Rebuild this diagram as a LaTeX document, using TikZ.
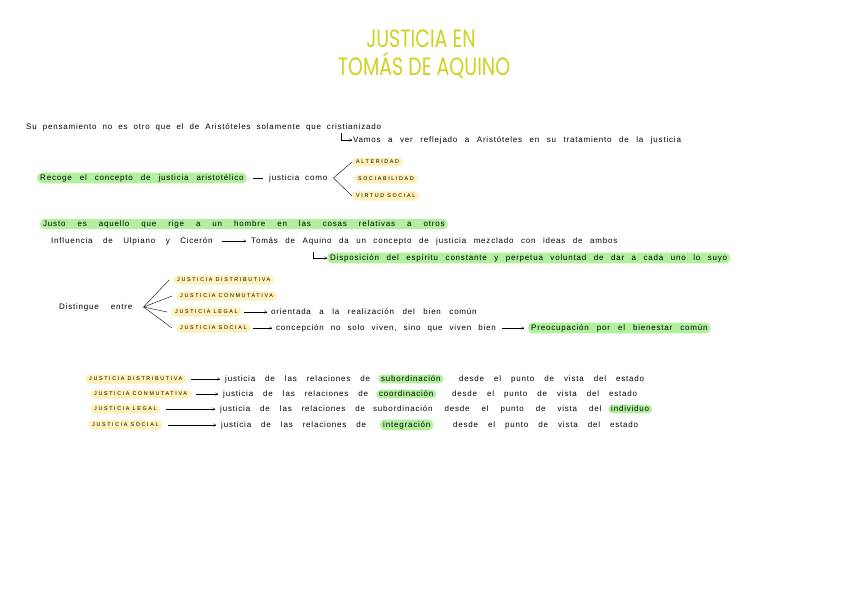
\documentclass[tikz,border=0pt]{standalone}
\usepackage{fontspec}
\setmainfont{Liberation Sans}
\newfontfamily\handfont[LetterSpace=10]{Liberation Sans}
\newfontfamily\capsfont[LetterSpace=30]{Liberation Sans}
\newfontfamily\titlefont{Poppins}
\usetikzlibrary{arrows.meta}
\definecolor{titulo}{RGB}{205,210,30}
\definecolor{verde}{RGB}{178,240,160}
\definecolor{amarillo}{RGB}{255,239,184}
\tikzset{
  esp/.style={execute at begin node={\spaceskip=#1 plus 1pt\relax}},
  txt/.style={anchor=west, inner sep=1pt, font=\handfont\fontsize{8}{9}\selectfont, esp=6pt},
  hl/.style={txt, fill=verde, rounded corners=4.5pt, inner xsep=3pt, inner ysep=1.5pt},
  tag/.style={anchor=west, fill=amarillo, rounded corners=5pt, inner xsep=4pt, inner ysep=2.6pt, font=\capsfont\fontsize{5.4}{6}\selectfont},
  titulo/.style={font=\titlefont\fontsize{25}{27}\selectfont, text=titulo, xscale=0.76},
  flecha/.style={-{To[length=3pt,width=3pt]}, thin},
  rama/.style={thin},
}
\begin{document}
\begin{tikzpicture}[x=1pt, y=-1pt]
\useasboundingbox (0,0) rectangle (848,599);
% titulo
\node[titulo] (t1) at (421,39) {JUSTICIA EN};
\node[titulo] (t2) at (424,66) {TOMÁS DE AQUINO};
% pensamiento
\node[txt] (pens) at (25,127) {Su pensamiento no es otro que el de Aristóteles solamente que cristianizado};
\node[txt, esp=7.5pt] (vamos) at (352,140) {Vamos a ver reflejado a Aristóteles en su tratamiento de la justicia};
\coordinate (v0) at (341,133);
\draw[flecha] (v0) |- (vamos.west);
% justicia como
\node[hl, esp=8pt] (recoge) at (37,178) {Recoge el concepto de justicia aristotélico};
\node[txt] (como) at (268,178) {justicia como};
\draw[rama] ([xshift=6pt]recoge.east) -- ([xshift=-5pt]como.west);
\node[tag] (alt) at (352,162) {ALTERIDAD};
\node[tag] (soc) at (354,179) {SOCIABILIDAD};
\node[tag] (vir) at (352,196) {VIRTUD SOCIAL};
\draw[rama] (alt.west) -- ([xshift=5pt]como.east) -- (vir.west);
% justo
\node[hl, esp=12pt] (justo) at (40,224) {Justo es aquello que rige a un hombre en las cosas relativas a otros};
\node[txt, esp=10.5pt] (infl) at (50,241) {Influencia de Ulpiano y Cicerón};
\node[txt, esp=7.5pt] (tomas) at (250,241) {Tomás de Aquino da un concepto de justicia mezclado con ideas de ambos};
\draw[flecha] ([xshift=8pt]infl.east) -- ([xshift=-4pt]tomas.west);
\node[hl, esp=7.5pt] (disp) at (327,258) {Disposición del espíritu constante y perpetua voluntad de dar a cada uno lo suyo};
\coordinate (d1) at (313,252);
\draw[flecha] (d1) |- (disp.west);
% distingue entre
\node[txt, esp=12pt] (dist) at (58,307) {Distingue entre};
\node[tag] (dis) at (173,280) {JUSTICIA DISTRIBUTIVA};
\node[tag] (con) at (176,296) {JUSTICIA CONMUTATIVA};
\node[tag] (leg) at (171,312) {JUSTICIA LEGAL};
\node[tag] (soci) at (176,328) {JUSTICIA SOCIAL};
\foreach \n in {dis,con,leg,soci}
  \draw[rama] ([xshift=10pt]dist.east) -- ([xshift=-4pt]\n.west);
\node[txt, esp=8.5pt] (orient) at (270,312) {orientada a la realización del bien común};
\node[txt, esp=7pt] (concep) at (275,328) {concepción no solo viven, sino que viven bien};
\node[hl, esp=8pt] (preoc) at (528,328) {Preocupación por el bienestar común};
\draw[flecha] ([xshift=2pt]leg.east) -- ([xshift=-3pt]orient.west);
\draw[flecha] ([xshift=2pt]soci.east) -- ([xshift=-3pt]concep.west);
\draw[flecha] ([xshift=5pt]concep.east) -- ([xshift=-4pt]preoc.west);
% tipos de justicia
\node[tag] (bdis) at (85,379) {JUSTICIA DISTRIBUTIVA};
\node[tag] (bcon) at (90,394) {JUSTICIA CONMUTATIVA};
\node[tag] (bleg) at (90,409) {JUSTICIA LEGAL};
\node[tag] (bsoc) at (88,425) {JUSTICIA SOCIAL};
\node[txt, esp=10pt] (rdis) at (224,379) {justicia de las relaciones de};
\node[txt, esp=10pt] (rcon) at (222,394) {justicia de las relaciones de};
\node[txt, esp=10pt] (rleg) at (219,409) {justicia de las relaciones de};
\node[txt, esp=10pt] (rsoc) at (220,425) {justicia de las relaciones de};
\node[hl] (sub) at (378,379) {subordinación};
\node[hl] (coo) at (376,394) {coordinación};
\node[txt, esp=12pt] (subl) at (372,409) {subordinación desde el punto de vista del};
\node[hl] (int) at (380,425) {integración};
\node[txt, esp=10pt] (edis) at (458,379) {desde el punto de vista del estado};
\node[txt, esp=10pt] (econ) at (451,394) {desde el punto de vista del estado};
\node[hl] (ind) at (608,409) {individuo};
\node[txt, esp=10pt] (esoc) at (452,425) {desde el punto de vista del estado};
\foreach \a/\b in {bdis/rdis, bcon/rcon, bleg/rleg, bsoc/rsoc}
  \draw[flecha] ([xshift=5pt]\a.east) -- ([xshift=-4pt]\b.west);
\end{tikzpicture}
\end{document}
